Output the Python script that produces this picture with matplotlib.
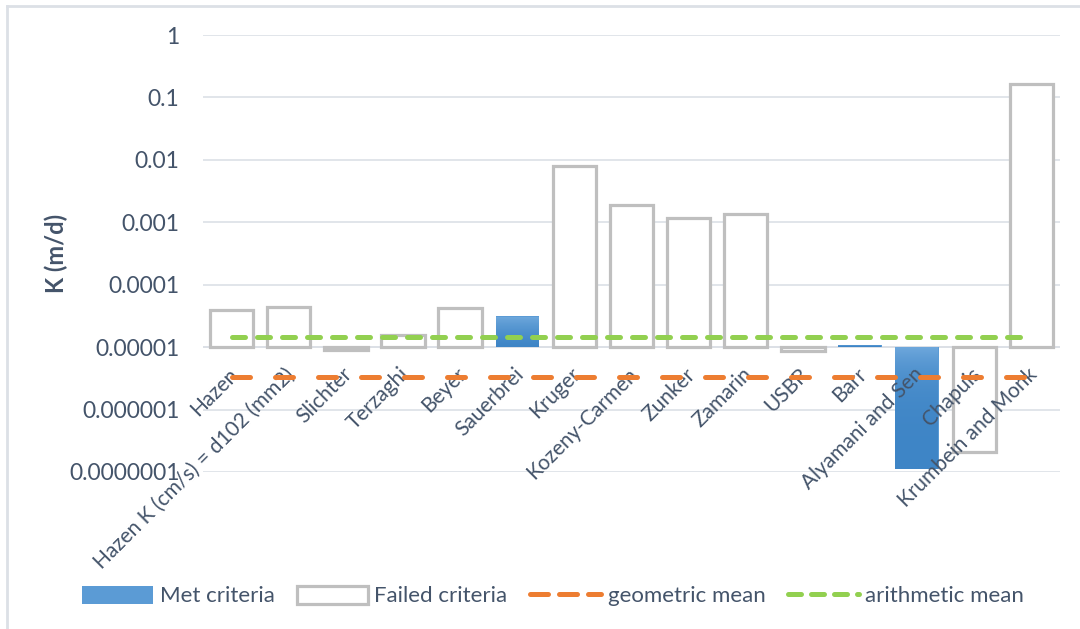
import matplotlib
matplotlib.use("Agg")
import matplotlib.pyplot as plt
import matplotlib.transforms as mtransforms
from matplotlib.patches import Patch
from matplotlib.lines import Line2D
import numpy as np

plt.rcParams['font.family'] = ['Lato', 'DejaVu Sans']

# data (K in m/d)
methods = ['Hazen', 'Hazen K (cm/s) = d102 (mm2)', 'Slichter', 'Terzaghi', 'Beyer',
           'Sauerbrei', 'Kruger', 'Kozeny-Carmen', 'Zunker', 'Zamarin', 'USBR',
           'Barr', 'Alyamani and Sen', 'Chapuis', 'Krumbein and Monk']
k_values = [4.0e-5, 4.4e-5, 9.1e-6, 1.55e-5, 4.2e-5,
            3.1e-5, 8.1e-3, 1.87e-3, 1.15e-3, 1.38e-3, 8.6e-6,
            1.1e-5, 1.1e-7, 2.1e-7, 0.165]
met = [False, False, False, False, False,
       True, False, False, False, False, False,
       True, True, False, False]
geometric_mean = 3.35e-6
arithmetic_mean = 1.43e-5
base = 1e-5  # horizontal axis crosses here

text_col = '#44546A'
grid_col = '#DCE0E6'
blue = '#5B9BD5'
gray = '#BFBFBF'
orange = '#ED7D31'
green = '#92D050'

fig = plt.figure(figsize=(10.8, 6.29), dpi=100)
ax = fig.add_axes([203/1080, 1-472/629, (1060-203)/1080, (472-35)/629])
ax.set_yscale('log')
ax.set_ylim(1e-7, 1)
ax.set_xlim(-0.5, len(methods) - 0.5)
x = np.arange(len(methods))
vals = np.array(k_values)
cmap = matplotlib.colors.LinearSegmentedColormap.from_list('g', ['#3E85C6', '#70A9DD'])
bw = 0.76

# bars grow up or down from the crossing value
for i, v in enumerate(vals):
    if met[i]:
        b = ax.bar(x[i], v - base, bottom=base, width=bw, color=blue, lw=0, zorder=2)[0]
        # vertical gradient inside the bar
        grad = np.linspace(0, 1, 100).reshape(-1, 1)
        y0, y1 = min(v, base), max(v, base)
        im = ax.imshow(grad, extent=[x[i]-bw/2, x[i]+bw/2, y0, y1], aspect='auto',
                       cmap=cmap, origin='lower', zorder=2.1, interpolation='bilinear')
        im.set_clip_path(b)
    else:
        ax.bar(x[i], v - base, bottom=base, width=bw, facecolor='white',
               edgecolor=gray, lw=2.3, zorder=2)

ax.plot([x[0], x[-1]], [geometric_mean]*2, color=orange, lw=3.6,
        dashes=(3.6, 5.0), dash_capstyle='round', zorder=3)
ax.plot([x[0], x[-1]], [arithmetic_mean]*2, color=green, lw=3.6,
        dashes=(2.6, 2.4), dash_capstyle='round', zorder=3)

ax.grid(axis='y', color=grid_col, lw=1.2)
ax.set_axisbelow(True)
for s in ax.spines.values():
    s.set_visible(False)
ax.axhline(base, color=grid_col, lw=1.4, zorder=1)
ax.set_yticks([1e-7, 1e-6, 1e-5, 1e-4, 1e-3, 1e-2, 1e-1, 1])
ax.set_yticklabels(['0.0000001', '0.000001', '0.00001', '0.0001', '0.001', '0.01', '0.1', '1'])
ax.minorticks_off()
ax.tick_params(axis='y', length=0, pad=17, labelsize=16.5, labelcolor=text_col)
ax.set_xticks([])
ax.set_ylabel('K (m/d)', fontsize=17, fontweight='bold', color=text_col)
ax.yaxis.set_label_coords(68/1080, 0.5, transform=mtransforms.blended_transform_factory(fig.transFigure, ax.transAxes))

# category labels hang below the crossing line
off = mtransforms.offset_copy(ax.transData, fig=fig, x=-4, y=-17, units='dots')
for i, name in enumerate(methods):
    ax.text(x[i], base, name, rotation=45, ha='right', va='top', rotation_mode='anchor',
            transform=off, fontsize=15, color=text_col, zorder=2.5)

handles = [Patch(facecolor=blue, edgecolor='none'),
           Patch(facecolor='white', edgecolor=gray, lw=2.3),
           Line2D([], [], color=orange, lw=3.6, dashes=(3.6, 2.2), dash_capstyle='round'),
           Line2D([], [], color=green, lw=3.6, dashes=(2.6, 2.0), dash_capstyle='round')]
fig.legend(handles, ['Met criteria', 'Failed criteria', 'geometric mean', 'arithmetic mean'],
           loc='center', bbox_to_anchor=(553/1080, 1-596/629), ncol=4, frameon=False,
           fontsize=16, labelcolor=text_col, handlelength=3.2, handleheight=0.9,
           handletextpad=0.3, columnspacing=1.0)

# chart border (top and left edges visible)
fig.add_artist(Line2D([7/1080, 7/1080], [0, 1-6/629], transform=fig.transFigure, color='#DCE0E6', lw=2))
fig.add_artist(Line2D([7/1080, 1], [1-6/629, 1-6/629], transform=fig.transFigure, color='#DCE0E6', lw=2))

fig.savefig('out.png', dpi=100, facecolor='white')
